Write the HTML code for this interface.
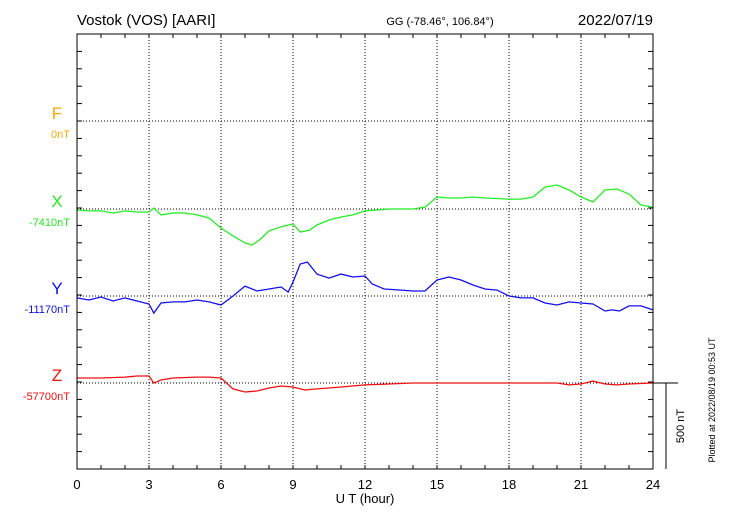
<!DOCTYPE html>
<html><head><meta charset="utf-8"><style>
body{margin:0;background:#fff;width:730px;height:520px;overflow:hidden}
svg{display:block;font-family:"Liberation Sans",sans-serif}
</style></head><body>
<svg id="chart" width="730" height="520">
<text x="77" y="25" font-size="15">Vostok (VOS)  [AARI]</text>
<text x="440" y="25" font-size="11" text-anchor="middle">GG (-78.46°, 106.84°)</text>
<text x="653" y="25" font-size="15" text-anchor="end">2022/07/19</text>
<g id="grid"></g>
<g id="series"></g>
<rect x="77" y="34" width="576" height="435" fill="none" stroke="#000" stroke-width="1"/>
<text x="365" y="503" font-size="13" text-anchor="middle">U T (hour)</text>
<line x1="653" y1="383" x2="678" y2="383" stroke="#000"/>
<line x1="666" y1="383" x2="666" y2="469" stroke="#000"/>
<text transform="translate(684,426) rotate(-90)" font-size="11" text-anchor="middle">500 nT</text>
<text transform="translate(715,400) rotate(-90)" font-size="9" text-anchor="middle">Plotted at 2022/08/19 00:53 UT</text>
</svg>
<script>
const hoursX=[0,0.5,1,1.5,2,2.5,3,3.2,3.5,4,4.5,5,5.5,6,6.5,7,7.3,7.6,8,8.5,9,9.3,9.7,10,10.5,11,11.5,12,12.5,13,14,14.5,15,15.5,16,16.5,17,18,18.5,19,19.5,20,20.5,21,21.5,22,22.5,23,23.5,24];
const valuesX=[-6,-11,-11,-23,-11,-17,-17,6,-34,-23,-23,-34,-52,-109,-155,-195,-207,-178,-126,-103,-86,-132,-121,-92,-63,-46,-34,-11,-6,0,0,11,69,63,63,69,63,57,57,69,126,138,109,69,40,109,115,86,23,11];
const hoursY=[0,0.5,1,1.5,2,2.5,3,3.2,3.5,4,4.5,5,5.5,6,6.5,7,7.5,8,8.5,8.8,9,9.3,9.6,10,10.5,11,11.5,12,12.3,12.8,13.5,14,14.5,15,15.5,16,16.5,17,17.5,18,18.5,19,19.5,20,20.5,21,21.5,22,22.3,22.6,23,23.5,24];
const valuesY=[-11,-23,-6,-29,-11,-29,-46,-98,-40,-34,-34,-23,-34,-52,0,57,29,40,52,23,80,184,195,126,103,126,109,115,69,40,34,29,29,92,109,92,63,40,34,0,-11,-11,-40,-52,-34,-40,-46,-86,-80,-86,-57,-57,-80];
const hoursZ=[0,1,2,2.5,3,3.2,3.5,4,5,5.5,6,6.5,7,7.5,8,8.5,9,9.5,10,11,12,13,14,16,18,19,20,20.5,21,21.5,22,22.5,23,24];
const valuesZ=[29,29,34,40,40,0,17,29,34,34,29,-34,-52,-46,-29,-17,-23,-40,-34,-23,-11,-6,0,0,0,0,0,-11,-6,11,-6,-11,-6,0];
const xTicks=[0,3,6,9,12,15,18,21,24];
const comps=[{n:'F',c:'#f5a800',base:121,lab:'0nT',h:[],v:[]},
{n:'X',c:'#22ee22',base:209,lab:'-7410nT',h:hoursX,v:valuesX},
{n:'Y',c:'#1010ee',base:296,lab:'-11170nT',h:hoursY,v:valuesY},
{n:'Z',c:'#ee1010',base:383,lab:'-57700nT',h:hoursZ,v:valuesZ}];
const NS='http://www.w3.org/2000/svg';
const L=77,R=653,T=34,B=469,pxPerNT=87/500;
const xs=h=>L+h*(R-L)/24;
function mk(tag,attrs,parent){const e=document.createElementNS(NS,tag);for(const k in attrs)e.setAttribute(k,attrs[k]);parent.appendChild(e);return e;}
const grid=document.getElementById('grid'),ser=document.getElementById('series'),svg=document.getElementById('chart');
for(const t of xTicks){
 if(t>0&&t<24){const g=mk('line',{x1:xs(t),y1:T,x2:xs(t),y2:B,stroke:'#000','stroke-dasharray':'1,2'},grid);
 
 }
 const tx=mk('text',{x:xs(t),y:489,'font-size':13,'text-anchor':'middle'},svg);tx.textContent=t;
 
 
}
for(let h=1;h<24;h++){mk('line',{x1:xs(h),y1:T,x2:xs(h),y2:T+4,stroke:'#000'},grid);mk('line',{x1:xs(h),y1:B,x2:xs(h),y2:B-4,stroke:'#000'},grid);}
for(let i=1;i<25;i++){const y=T+i*87/5;mk('line',{x1:L,y1:y,x2:L+5,y2:y,stroke:'#000'},grid);mk('line',{x1:R,y1:y,x2:R-5,y2:y,stroke:'#000'},grid);}
for(const c of comps){
 const g=mk('line',{x1:L,y1:c.base,x2:R,y2:c.base,stroke:'#000','stroke-dasharray':'1,2'},grid);
 
 
 const t1=mk('text',{x:57,y:c.base-2,'font-size':17,fill:c.c,'text-anchor':'middle'},svg);t1.textContent=c.n;
 
 
 const t2=mk('text',{x:70,y:c.base+17,'font-size':11,fill:c.c,'text-anchor':'end'},svg);t2.textContent=c.lab;
 
 
 if(c.h.length){
  const pts=c.h.map((h,i)=>xs(h).toFixed(1)+','+(c.base-c.v[i]*pxPerNT).toFixed(1)).join(' ');
  const p=mk('polyline',{points:pts,fill:'none',stroke:c.c,'stroke-width':1.3},ser);
  
  
 }
}
</script>
</body></html>
